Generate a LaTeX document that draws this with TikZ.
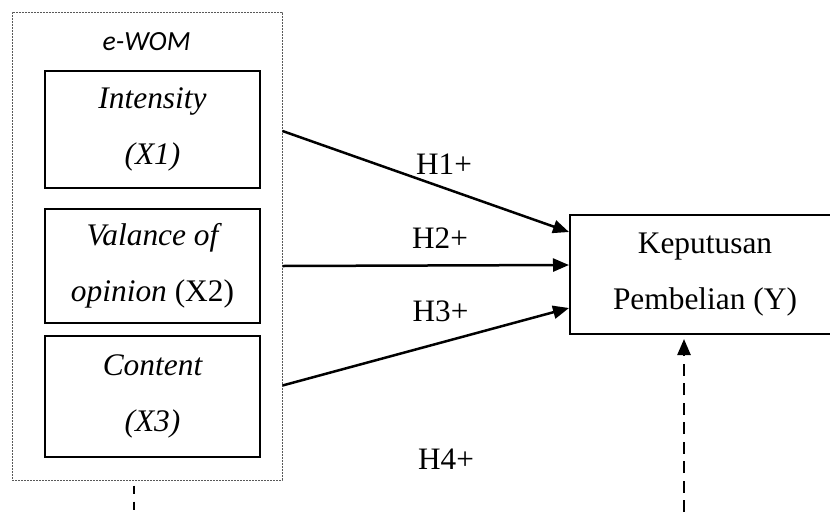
\documentclass[tikz,border=0pt]{standalone}
\usepackage{fontspec}
\setmainfont{Liberation Serif}
\newfontfamily\groupfont{Carlito}
\usetikzlibrary{arrows.meta,calc}

\begin{document}
\begin{tikzpicture}[x=1pt,y=-1pt,
  boxtext/.style={inner sep=0pt, align=center,
    font=\fontsize{31.4}{56}\selectfont,
    execute at begin node={\rule{0pt}{29pt}}},
  varbox/.style={boxtext, draw, line width=2pt, minimum width=215pt,
    font=\fontsize{31.4}{56}\selectfont\itshape},
  link/.style={line width=2.5pt, -{Triangle[length=16pt,width=13pt]}},
  hlabel/.style={font=\fontsize{31.2}{36}\selectfont, inner sep=0pt},
]
\useasboundingbox (0,0) rectangle (830,512);

% e-WOM group frame
\node[draw=black!65, line width=1pt, dash pattern=on 1.6pt off 1.4pt,
      minimum width=270pt, minimum height=468pt, inner sep=0pt] (group) at (147,246) {};
\node[font=\groupfont\fontsize{27.7}{32}\selectfont\itshape, inner sep=0pt] (ewom) at (146.5,42) {e-WOM};

% independent variables
\node[varbox, minimum height=117pt] (x1) at (152.5,129.5) {Intensity\\(X1)};
\node[varbox, minimum height=114pt] (x2) at (152.5,265.5) {Valance of\\opinion \textup{(X2)}};
\node[varbox, minimum height=121pt] (x3) at (152.5,396.5) {Content\\(X3)};

% dependent variable (its frame runs on past the right edge)
\node[boxtext, draw, line width=2pt, minimum width=270pt, minimum height=119pt]
  (y) at (705,274.5) {Keputusan\\Pembelian (Y)};

% hypotheses
\coordinate (s1) at ($(group.east |- x1.center)+(0,1.5)$);
\coordinate (s2) at ($(group.east |- x2.center)+(0,0.5)$);
\coordinate (s3) at ($(group.east |- x3.center)+(0,-11)$);
\draw[link] (s1) -- ($(y.north west)+(0,18)$);
\draw[link] (s2) -- ($(y.north west)+(0,51)$);
\draw[link] (s3) -- ($(y.north west)+(0,94)$);

\node[hlabel] (h1) at (444,164) {H1+};
\node[hlabel] (h2) at (440,238) {H2+};
\node[hlabel] (h3) at (440.5,311) {H3+};
\node[hlabel] (h4) at (446,459) {H4+};

% moderating path
\coordinate (m1) at (684,512);
\draw[link, dash pattern=on 12pt off 7.5pt, shorten >=4pt] (m1) -- (y.south -| m1);
\coordinate (m0) at (134,512);
\draw[line width=2pt, dash pattern=on 8pt off 8pt] ($(group.south -| m0)+(0,5)$) -- (m0);
\end{tikzpicture}
\end{document}
